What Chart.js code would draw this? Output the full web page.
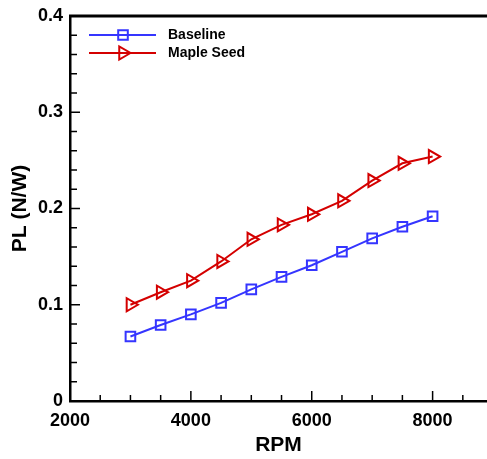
<!DOCTYPE html>
<html>
<head>
<meta charset="utf-8">
<script src="https://cdn.jsdelivr.net/npm/chart.js@4/dist/chart.umd.min.js"></script>
<style>
  html, body { margin: 0; padding: 0; background: #fff; overflow: hidden; }
</style>
</head>
<body>
<canvas id="chart" width="487" height="459"></canvas>
<script>
const rpm = [3000, 3500, 4000, 4500, 5000, 5500, 6000, 6500, 7000, 7500, 8000]
const baseline = [0.067, 0.079, 0.090, 0.102, 0.116, 0.129, 0.141, 0.155, 0.169, 0.181, 0.192]
const mapleSeed = [0.100, 0.113, 0.125, 0.145, 0.168, 0.183, 0.194, 0.208, 0.229, 0.247, 0.254]
const seriesNames = ['Baseline', 'Maple Seed']

// tick positions (major ones get labels)
const xTicks = [2000, 2500, 3000, 3500, 4000, 4500, 5000, 5500, 6000, 6500, 7000, 7500, 8000, 8500]
const xLabels = [2000, 4000, 6000, 8000]
const yTicks = [0, 0.02, 0.04, 0.06, 0.08, 0.1, 0.12, 0.14, 0.16, 0.18, 0.2, 0.22, 0.24, 0.26, 0.28, 0.3, 0.32, 0.34, 0.36, 0.38, 0.4]
const yLabels = ['0', '0.1', '0.2', '0.3', '0.4']

const FONT = 'Liberation Sans, Arial, sans-serif'
const BLUE = '#3535ff'
const RED = '#d40000'

const isYMajor = v => yLabels.includes(v === 0 ? '0' : v.toFixed(2).replace(/0$/, ''))

// inward tick marks, top frame line and the in-plot legend
const framePlugin = {
    id: 'frame',
    afterDraw(chart) {
        const ctx = chart.ctx
        const area = chart.chartArea
        const xs = chart.scales.x
        const ys = chart.scales.y
        ctx.save()
        ctx.strokeStyle = '#000'
        ctx.lineWidth = 1.5
        xs.ticks.forEach(t => {
            const px = xs.getPixelForValue(t.value)
            const len = xLabels.includes(t.value) ? 10 : 6
            ctx.beginPath()
            ctx.moveTo(px, area.bottom)
            ctx.lineTo(px, area.bottom - len)
            ctx.stroke()
        })
        ys.ticks.forEach(t => {
            const py = ys.getPixelForValue(t.value)
            ctx.beginPath()
            ctx.moveTo(area.left, py)
            ctx.lineTo(area.left + (isYMajor(t.value) ? 10 : 7), py)
            ctx.stroke()
        })
        ctx.lineWidth = 3
        ctx.beginPath()
        ctx.moveTo(area.left - 1, area.top)
        ctx.lineTo(chart.width, area.top)
        ctx.stroke()

        // legend
        chart.data.datasets.forEach((ds, i) => {
            const y = 35 + i * 18
            ctx.strokeStyle = ds.borderColor
            ctx.lineWidth = 2
            ctx.beginPath()
            ctx.moveTo(89, y)
            ctx.lineTo(156, y)
            ctx.stroke()
            ctx.fillStyle = 'rgba(0,0,0,0)'
            Chart.helpers.drawPoint(ctx, {
                pointStyle: ds.pointStyle,
                rotation: ds.pointRotation || 0,
                radius: ds.pointRadius,
                borderWidth: 2
            }, 123, y)
            ctx.fillStyle = '#000'
            ctx.font = 'bold 14px ' + FONT
            ctx.textBaseline = 'middle'
            ctx.textAlign = 'left'
            ctx.fillText(ds.label, 168, y)
        })
        ctx.restore()
    }
}

const toPoints = vals => rpm.map((r, i) => ({ x: r, y: vals[i] }))

new Chart(document.getElementById('chart'), {
    type: 'line',
    data: {
        datasets: [{
            label: seriesNames[0],
            data: toPoints(baseline),
            borderColor: BLUE,
            borderWidth: 2,
            pointStyle: 'rect',
            pointRadius: 6.8,
            pointBorderWidth: 2,
            pointBorderColor: BLUE,
            pointBackgroundColor: 'rgba(0,0,0,0)',
            tension: 0
        }, {
            label: seriesNames[1],
            data: toPoints(mapleSeed),
            borderColor: RED,
            borderWidth: 2,
            pointStyle: 'triangle',
            pointRotation: 90,
            pointRadius: 7.5,
            pointBorderWidth: 2,
            pointBorderColor: RED,
            pointBackgroundColor: 'rgba(0,0,0,0)',
            tension: 0
        }]
    },
    options: {
        responsive: false,
        animation: false,
        devicePixelRatio: 1,
        layout: { autoPadding: false, padding: { top: 16, left: 0, right: 0, bottom: 0 } },
        plugins: {
            legend: { display: false },
            tooltip: { enabled: false }
        },
        scales: {
            x: {
                type: 'linear',
                min: 2000,
                max: 8900,
                afterBuildTicks(scale) { scale.ticks = xTicks.map(v => ({ value: v })) },
                afterFit(scale) {
                    scale.height = 58
                    scale.paddingLeft = 0
                    scale.paddingRight = 0
                },
                grid: { display: false, drawTicks: false },
                border: { display: true, color: '#000', width: 2.5 },
                ticks: {
                    autoSkip: false,
                    maxRotation: 0,
                    padding: 9,
                    color: '#000',
                    font: { family: FONT, size: 18, weight: 'bold' },
                    callback: v => xLabels.includes(v) ? String(v) : ''
                },
                title: {
                    display: true,
                    text: 'RPM',
                    color: '#000',
                    padding: { top: 0, bottom: 1 },
                    font: { family: FONT, size: 21, weight: 'bold' }
                }
            },
            y: {
                min: 0,
                max: 0.4,
                afterBuildTicks(scale) { scale.ticks = yTicks.map(v => ({ value: v })) },
                afterFit(scale) {
                    scale.width = 70
                    scale.paddingTop = 0
                    scale.paddingBottom = 0
                },
                grid: { display: false, drawTicks: false },
                border: { display: true, color: '#000', width: 2.5 },
                ticks: {
                    autoSkip: false,
                    padding: 7,
                    color: '#000',
                    font: { family: FONT, size: 18, weight: 'bold' },
                    callback: v => isYMajor(v) ? (v === 0 ? '0' : v.toFixed(1)) : ''
                },
                title: {
                    display: true,
                    text: 'PL (N/W)',
                    color: '#000',
                    padding: { top: 8, bottom: 0 },
                    font: { family: FONT, size: 21, weight: 'bold' }
                }
            }
        }
    },
    plugins: [framePlugin]
})
</script>
</body>
</html>
